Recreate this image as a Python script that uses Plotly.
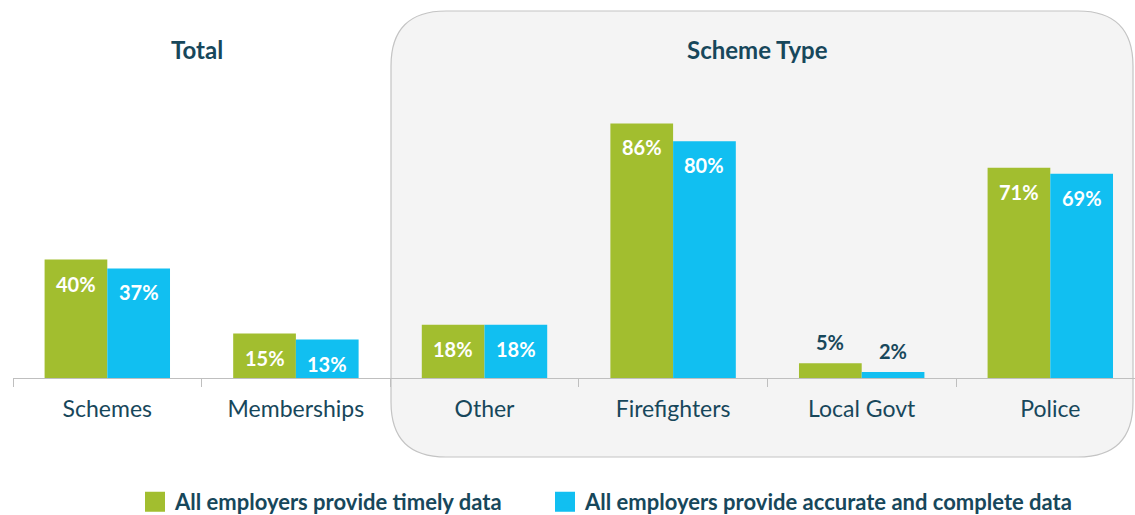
import plotly.graph_objects as go

categories = ["Schemes", "Memberships", "Other", "Firefighters", "Local Govt", "Police"]
timely = [40, 15, 18, 86, 5, 71]
accurate = [37, 13, 18, 80, 2, 69]
series_names = ["All employers provide timely data", "All employers provide accurate and complete data"]
group_titles = ["Total", "Scheme Type"]

W, H = 1135, 515
GREEN = "#A2BE2F"
BLUE = "#11BFF1"
TEAL = "#17475B"
FONT = "Lato"

fig = go.Figure()
for vals, name, col, lg in [(timely, series_names[0], GREEN, "legend"), (accurate, series_names[1], BLUE, "legend2")]:
    fig.add_trace(go.Bar(x=categories, y=vals, name=name, marker=dict(color=col, line=dict(width=0)),
                         showlegend=False, hoverinfo="skip"))
    fig.add_trace(go.Scatter(x=[None], y=[None], mode="markers", name=f"<b>{name}</b>", legend=lg,
                             marker=dict(symbol="square", size=16, color=col, line=dict(color=col, width=4)),
                             showlegend=True))

# value labels
cat_w = 188.6
half = cat_w * (1 - 0.335) / 4
annots = []
for vals, shift in [(timely, -half), (accurate, half)]:
    for c, v in zip(categories, vals):
        inside = v >= 10
        annots.append(dict(x=c, y=v, xref="x", yref="y", text=f"<b>{v}%</b>", showarrow=False,
                           xshift=shift, yshift=-24 if inside else 21, yanchor="middle",
                           font=dict(family=FONT, size=20, color="white" if inside else TEAL)))

# group titles
for t, px_ in zip(group_titles, [197, 757]):
    annots.append(dict(x=px_ / W, y=1 - 50 / H, xref="paper", yref="paper", text=f"<b>{t}</b>",
                       showarrow=False, xanchor="center", yanchor="middle",
                       font=dict(family=FONT, size=24, color=TEAL)))

# rounded panel
L, R, T, B, r = 391, 1133, 11, 457, 55
def px(x): return x / W
def py(y): return 1 - y / H
path = (f"M {px(L+r)},{py(T)} L {px(R-r)},{py(T)} Q {px(R)},{py(T)} {px(R)},{py(T+r)} "
        f"L {px(R)},{py(B-r)} Q {px(R)},{py(B)} {px(R-r)},{py(B)} "
        f"L {px(L+r)},{py(B)} Q {px(L)},{py(B)} {px(L)},{py(B-r)} "
        f"L {px(L)},{py(T+r)} Q {px(L)},{py(T)} {px(L+r)},{py(T)} Z")

baseline = 378
top = 60
ppu = 2.96
x0 = 13
span = (W - x0) / cat_w

legend_style = dict(orientation="h", xanchor="left", y=1 - 502 / H, yanchor="middle",
                    font=dict(family=FONT, size=22, color=TEAL), itemwidth=30,
                    bgcolor="rgba(0,0,0,0)")

fig.update_layout(
    width=W, height=H,
    margin=dict(l=0, r=0, t=0, b=0, autoexpand=False),
    paper_bgcolor="white", plot_bgcolor="rgba(0,0,0,0)",
    barmode="group", bargap=0.335, bargroupgap=0,
    font=dict(family=FONT, color=TEAL),
    shapes=[dict(type="path", path=path, xref="paper", yref="paper", layer="below",
                 fillcolor="#F4F4F4", line=dict(color="#C4C4C4", width=1.2))],
    annotations=annots,
    xaxis=dict(domain=[x0 / W, 1], range=[-0.5, -0.5 + span], showgrid=False, zeroline=False,
               showline=True, linecolor="#BFBFBF", linewidth=1.2, ticks="outside", tickson="boundaries",
               ticklen=8, tickcolor="#BFBFBF", tickfont=dict(family=FONT, size=23, color=TEAL),
               ticklabelstandoff=10, automargin=False, fixedrange=True),
    yaxis=dict(domain=[1 - baseline / H, 1 - top / H], range=[0, (baseline - top) / ppu], visible=False,
               showgrid=False, zeroline=False, fixedrange=True),
    legend=dict(x=135 / W, **legend_style),
    legend2=dict(x=545 / W, **legend_style),
)

fig.write_html("out.html", config={"displayModeBar": False},
               post_script="document.body.style.margin='0';document.body.style.overflow='hidden';")
